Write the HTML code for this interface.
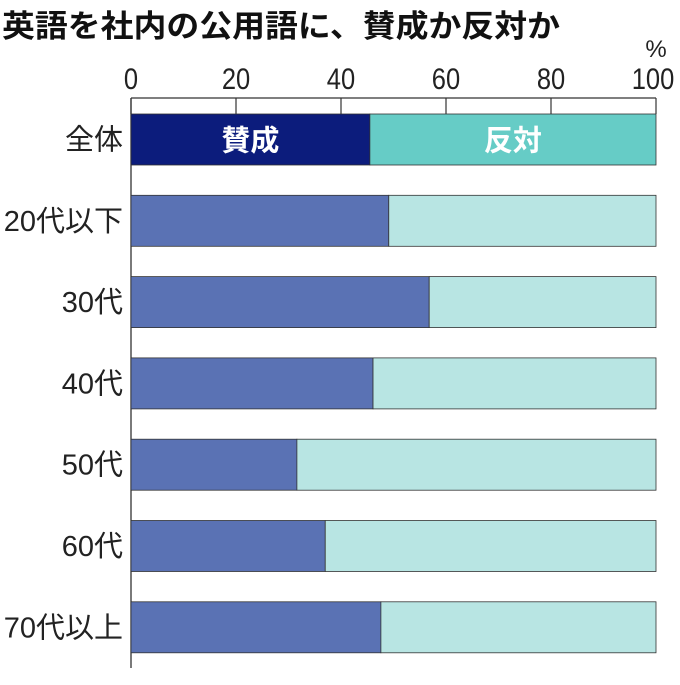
<!DOCTYPE html>
<html><head><meta charset="utf-8"><style>
body{margin:0;background:#fff;width:680px;height:680px;overflow:hidden}
text{font-family:"Liberation Sans","Noto Sans CJK JP",sans-serif}
</style></head><body>
<svg id="chart" width="680" height="680" xmlns="http://www.w3.org/2000/svg">
<text x="2" y="37" font-size="31" font-weight="bold" fill="#111" textLength="558" lengthAdjust="spacingAndGlyphs" style="font-family:'Noto Sans CJK JP',sans-serif">英語を社内の公用語に、賛成か反対か</text>
<text x="656" y="57" font-size="24" text-anchor="middle" fill="#222">%</text>
<g id="axis"></g><g id="bars"></g>
</svg>
<script>
const categories=["全体","20代以下","30代","40代","50代","60代","70代以上"];
const agree=[45.5,49.1,56.8,46.1,31.6,37.0,47.6];
const ticks=[0,20,40,60,80,100];
const svg=document.getElementById('chart');
const NS="http://www.w3.org/2000/svg";
const x0=131,x1=656;
const xs=v=>x0+(x1-x0)*v/100;
const rowY=i=>114+i*81.3;
const bh=51;
function mk(tag,attrs,parent){const e=document.createElementNS(NS,tag);for(const k in attrs)e.setAttribute(k,attrs[k]);parent.appendChild(e);return e;}
const ax=document.getElementById('axis');
let l=mk('line',{x1:x0,y1:98,x2:x1,y2:98,stroke:'#333','stroke-width':1.3},ax);


l=mk('line',{x1:x0,y1:98,x2:x0,y2:668,stroke:'#333','stroke-width':1.3},ax);


ticks.forEach(t=>{
  const tl=mk('line',{x1:xs(t),y1:98,x2:xs(t),y2:114,stroke:'#333','stroke-width':1.2},ax);
  
  
  const cx=xs(t)-(t===100?3:0);
  const tx=mk('text',{x:cx,y:89,'font-size':30,'text-anchor':'middle',fill:'#222',transform:`translate(${cx},0) scale(0.85,1) translate(${-cx},0)`},ax);
  tx.textContent=t;
  
  
});
const bg=document.getElementById('bars');
categories.forEach((c,i)=>{
  const y=rowY(i),a=agree[i];
  const first=i===0;
  const r1=mk('rect',{x:x0,y:y,width:xs(a)-x0,height:bh,fill:first?'#0c1c7c':'#5a72b4',stroke:'#333','stroke-width':0.8},bg);
  
  
  const r2=mk('rect',{x:xs(a),y:y,width:x1-xs(a),height:bh,fill:first?'#66ccc6':'#b8e5e3',stroke:'#333','stroke-width':0.8},bg);
  
  
  const lb=mk('text',{x:123,y:y+bh/2+10,'font-size':29,'text-anchor':'end',fill:'#222'},bg);
  lb.textContent=c;
  
  
  if(first){
    const t1=mk('text',{x:(x0+xs(a))/2,y:y+bh/2+11,'font-size':29,'font-weight':'bold','text-anchor':'middle',fill:'#fff'},bg);
    t1.textContent='賛成';
    
    
    const t2=mk('text',{x:(xs(a)+x1)/2,y:y+bh/2+11,'font-size':29,'font-weight':'bold','text-anchor':'middle',fill:'#fff'},bg);
    t2.textContent='反対';
    
    
  }
});
</script>
</body></html>
